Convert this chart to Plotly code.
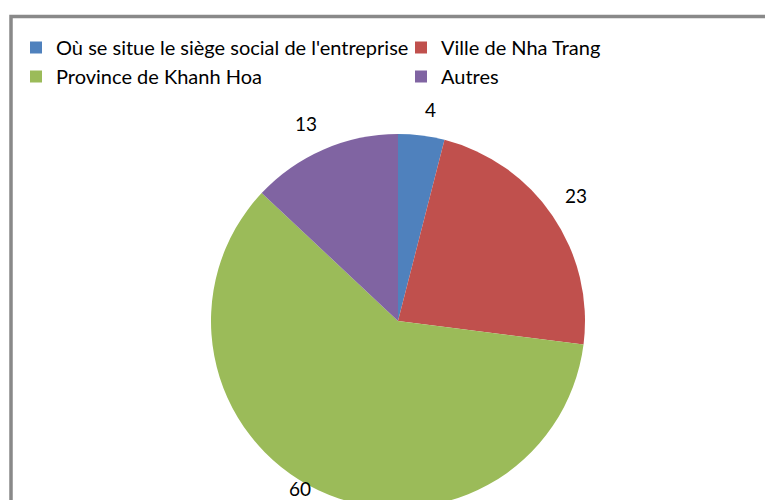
import math
import plotly.graph_objects as go

# categories and values
labels = ["Où se situe le siège social de l'entreprise", "Ville de Nha Trang",
          "Province de Khanh Hoa", "Autres"]
values = [4, 23, 60, 13]
colors = ["#4F81BD", "#C0504D", "#9BBB59", "#8064A2"]

W, H = 773, 500
FONT = "Lato, Liberation Sans, sans-serif"
# the page body adds an 8px offset, so paper positions are shifted back by 8px
CX, CY, R = 390, 313, 187          # pie centre / radius in paper pixels

fig = go.Figure()
fig.add_trace(go.Pie(
    labels=labels, values=values, sort=False, direction="clockwise", rotation=0,
    marker=dict(colors=colors, line=dict(width=0)),
    textinfo="none",
    domain=dict(x=[(CX - R) / W, (CX + R) / W], y=[0, 2 * R / H]),
    showlegend=True,
))

# value labels outside the slices, Excel style: box corner just off the rim,
# kept inside the chart area at the bottom
total = sum(values)
cum = 0
for v in values:
    a = (cum + v / 2) / total * 2 * math.pi
    cum += v
    px = CX + (R + 13) * math.sin(a)
    py = CY - (R + 13) * math.cos(a)
    xa = "left" if math.sin(a) >= 0 else "right"
    ya = "bottom" if math.cos(a) >= 0 else "top"
    if ya == "top" and py + 18 > 494:
        ya, py = "bottom", 494
    fig.add_annotation(x=px / W, y=1 - py / H, xref="paper", yref="paper",
                       text=str(v), showarrow=False, xanchor=xa, yanchor=ya,
                       font=dict(family=FONT, size=19, color="#000000"))

# grey frame of the chart area, running past the right and bottom edges
fig.add_shape(type="rect", xref="paper", yref="paper",
              x0=3 / W, y0=-0.1, x1=1.1, y1=1 - 8.5 / H,
              line=dict(color="#898989", width=3.5), fillcolor="rgba(0,0,0,0)")

fig.update_layout(
    width=W, height=H,
    margin=dict(l=0, r=0, t=0, b=0, autoexpand=False),
    paper_bgcolor="white", plot_bgcolor="white",
    font=dict(family=FONT, size=20, color="#000000"),
    legend=dict(orientation="h", x=8 / W, y=1 - 20 / H, xanchor="left", yanchor="top",
                entrywidth=340, entrywidthmode="pixels",
                font=dict(family=FONT, size=20), bgcolor="rgba(0,0,0,0)"),
)

fig.write_html("out.html")
